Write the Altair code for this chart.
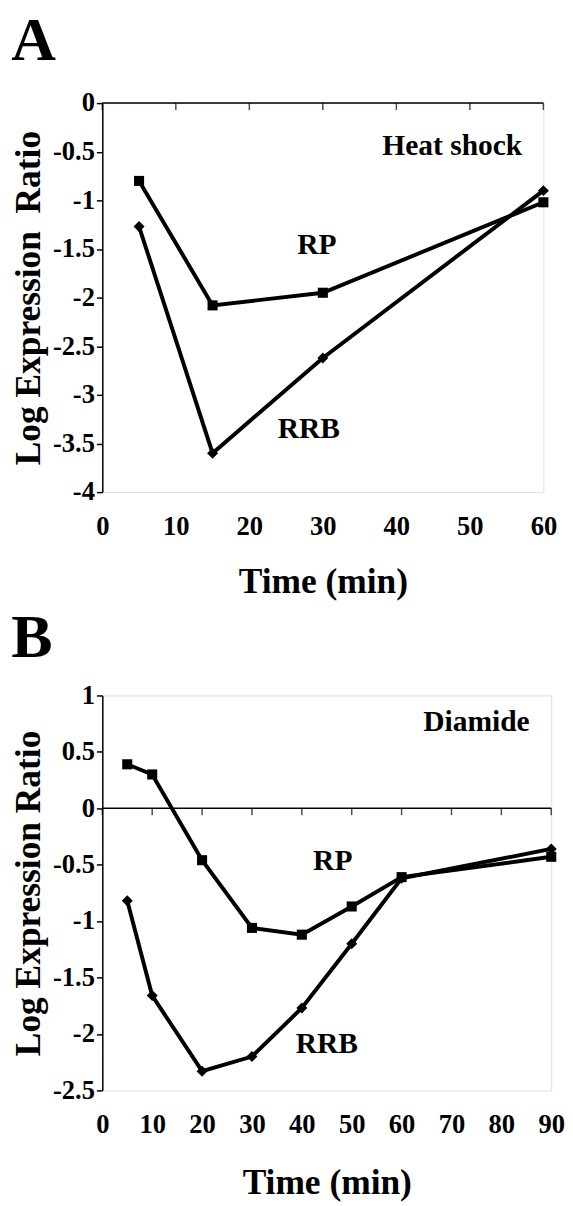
import altair as alt
import pandas as pd

# ---------------- data ----------------
time_a = [5, 15, 30, 60]
rp_a = [-0.80, -2.08, -1.95, -1.02]
rrb_a = [-1.27, -3.60, -2.62, -0.90]

time_b = [5, 10, 20, 30, 40, 50, 60, 90]
rp_b = [0.39, 0.30, -0.46, -1.06, -1.12, -0.87, -0.61, -0.43]
rrb_b = [-0.82, -1.66, -2.33, -2.20, -1.77, -1.20, -0.62, -0.36]

series_names = ["RP", "RRB"]

xticks_a = [0, 10, 20, 30, 40, 50, 60]
yticks_a = [0, -0.5, -1, -1.5, -2, -2.5, -3, -3.5, -4]
xticks_b = [0, 10, 20, 30, 40, 50, 60, 70, 80, 90]
yticks_b = [1, 0.5, 0, -0.5, -1, -1.5, -2, -2.5]

ann_text_a = ["Heat shock", "RP", "RRB"]
ann_x_a = [47.6, 29.2, 28.1]
ann_y_a = [-0.44, -1.46, -3.35]

ann_text_b = ["Diamide", "RP", "RRB"]
ann_x_b = [75.0, 46.2, 45.0]
ann_y_b = [0.765, -0.47, -2.09]

FONT = "Liberation Serif"


def panel(letter, title_offset, xtitle_pad, times, rp, rrb, xdom, xticks,
          ydom, yticks, ytitle, ann_text, ann_x, ann_y, w, h):
    n = len(times)
    df = pd.DataFrame({
        "t": list(times) * 2,
        "v": list(rp) + list(rrb),
        "s": [series_names[0]] * n + [series_names[1]] * n,
    })
    xscale = alt.Scale(domain=xdom, nice=False, zero=False)
    yscale = alt.Scale(domain=ydom, nice=False, zero=False)
    x = alt.X("t:Q", scale=xscale, axis=alt.Axis(
        values=xticks, domain=False, ticks=False, grid=False,
        labelFont=FONT, labelFontSize=27, labelFontWeight="bold",
        labelColor="black", labelPadding=22, labelFlush=False,
        title="Time (min)", titleFont=FONT, titleFontSize=36,
        titleFontWeight="bold", titleColor="black", titlePadding=xtitle_pad))
    y = alt.Y("v:Q", scale=yscale, axis=alt.Axis(
        values=yticks, labelExpr="datum.value + ''", grid=False,
        domain=True, domainColor="black", domainWidth=1.5,
        ticks=True, tickSize=6, tickColor="black", tickWidth=1.5,
        labelFont=FONT, labelFontSize=27, labelFontWeight="bold",
        labelColor="black", labelPadding=2, labelFlush=False,
        title=ytitle, titleFont=FONT, titleFontSize=36,
        titleFontWeight="bold", titleColor="black", titlePadding=5))

    line = alt.Chart(df).mark_line(color="black", strokeWidth=4).encode(
        x=x, y=y, detail="s:N")
    pts = alt.Chart(df).mark_point(filled=True, color="black", opacity=1).encode(
        x="t:Q", y="v:Q",
        shape=alt.Shape("s:N", scale=alt.Scale(domain=series_names,
                                               range=["square", "diamond"]),
                        legend=None),
        size=alt.Size("s:N", scale=alt.Scale(domain=series_names,
                                             range=[105, 125]),
                      legend=None))
    zero = alt.Chart(pd.DataFrame({"z": [0]})).mark_rule(
        color="black", strokeWidth=1.5).encode(y="z:Q")
    tdf = pd.DataFrame({"t": xticks, "z": [0] * len(xticks)})
    tks = alt.Chart(tdf).mark_tick(
        orient="vertical", color="black", size=7, thickness=1.5,
        yOffset=3.5).encode(x="t:Q", y="z:Q")
    adf = pd.DataFrame({"label": ann_text, "ax": ann_x, "ay": ann_y})
    txt = alt.Chart(adf).mark_text(
        font=FONT, fontSize=30, fontWeight="bold", color="black").encode(
        x="ax:Q", y="ay:Q", text="label:N")

    return alt.layer(line, pts, zero, tks, txt).properties(
        width=w, height=h,
        title=alt.TitleParams(letter, anchor="start", frame="bounds",
                              font=FONT, fontSize=63, fontWeight="bold",
                              color="black", offset=title_offset))


chart_a = panel("A", 17, 26, time_a, rp_a, rrb_a, [0, 60], xticks_a, [-4, 0],
                yticks_a, "Log Expression\u00a0 Ratio",
                ann_text_a, ann_x_a, ann_y_a, 449, 396)
chart_b = panel("B", 12, 29, time_b, rp_b, rrb_b, [0, 90], xticks_b, [-2.5, 1],
                yticks_b, "Log Expression Ratio",
                ann_text_b, ann_x_b, ann_y_b, 457, 402)

chart = alt.vconcat(chart_a, chart_b, spacing=7).properties(
    padding={"top": -9, "left": 2, "right": 0, "bottom": 0}
).configure_view(stroke="#808080", strokeWidth=1.5).configure(
    background="white")

chart.save("out.html", embed_options={"renderer": "svg", "actions": False})
